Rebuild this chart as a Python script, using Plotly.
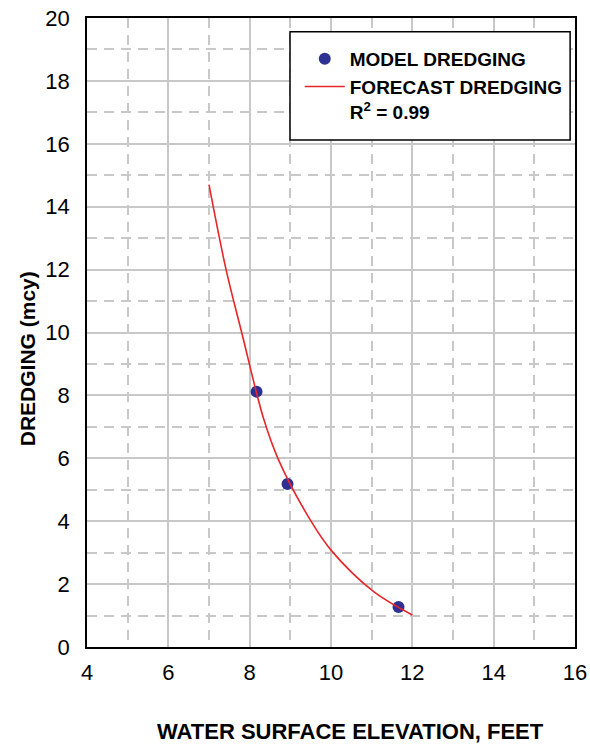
import plotly.graph_objects as go

# Model dredging points (water surface elevation ft, dredging mcy)
model_x = [8.17, 8.93, 11.66]
model_y = [8.12, 5.18, 1.27]

# Forecast dredging trend curve
fc_x = [7.0, 7.42, 7.81, 8.34, 8.71, 9.49, 10.0, 11.05, 12.0]
fc_y = [14.7, 12.0, 9.97, 7.27, 5.95, 4.04, 3.08, 1.76, 1.02]

r2_label = "R<sup>2</sup> = 0.99"

FONT = "Liberation Sans, Arial, sans-serif"

fig = go.Figure()
fig.add_trace(go.Scatter(
    x=model_x, y=model_y, mode="markers", name="<b>MODEL DREDGING</b>",
    marker=dict(color="#2e3192", size=12, line=dict(width=0)),
))
fig.add_trace(go.Scatter(
    x=fc_x, y=fc_y, mode="lines", line_shape="spline",
    name="<b>FORECAST DREDGING<br>" + r2_label + "</b>",
    line=dict(color="#e8262a", width=1.6),
))

grid = "#c8c8c8"
axis_common = dict(
    showline=True, linecolor="black", linewidth=1.5, mirror=True,
    showgrid=True, gridcolor=grid, gridwidth=1.5,
    zeroline=False, ticks="", automargin=False,
    tickfont=dict(family=FONT, size=22, color="black"),
)
fig.update_xaxes(range=[4, 16], dtick=2, tick0=0,
                 minor=dict(dtick=1, tick0=0, showgrid=True, gridcolor=grid,
                            gridwidth=1.5, griddash="10px,7px"),
                 ticklabelstandoff=5, **axis_common)
fig.update_yaxes(range=[0, 20], dtick=2, tick0=0,
                 minor=dict(dtick=1, tick0=0, showgrid=True, gridcolor=grid,
                            gridwidth=1.5, griddash="10px,7px"),
                 ticklabelstandoff=11, **axis_common)

fig.update_layout(
    width=590, height=748,
    margin=dict(l=87, r=15, t=18, b=101),
    paper_bgcolor="white", plot_bgcolor="white",
    font=dict(family=FONT, color="black"),
    showlegend=True,
    legend=dict(
        x=0.436, y=0.965, xanchor="left", yanchor="top",
        bgcolor="rgba(0,0,0,0)", borderwidth=0,
        font=dict(family=FONT, size=19, color="black"),
        valign="top", itemwidth=40, tracegroupgap=0,
    ),
    shapes=[dict(type="rect", xref="paper", yref="paper",
                 x0=0.416, x1=0.990, y0=0.806, y1=0.978,
                 line=dict(color="black", width=1.5), fillcolor="white",
                 layer="above")],
    annotations=[
        dict(text="<b>WATER SURFACE ELEVATION, FEET</b>", xref="paper", yref="paper",
             x=0.539, y=-0.135, showarrow=False, xanchor="center", yanchor="middle",
             font=dict(family=FONT, size=22, color="black")),
        dict(text="<b>DREDGING (mcy)</b>", xref="paper", yref="paper",
             x=-0.123, y=0.459, showarrow=False, textangle=-90,
             xanchor="center", yanchor="middle",
             font=dict(family=FONT, size=21, color="black")),
    ],
)

fig.write_html("out.html")
